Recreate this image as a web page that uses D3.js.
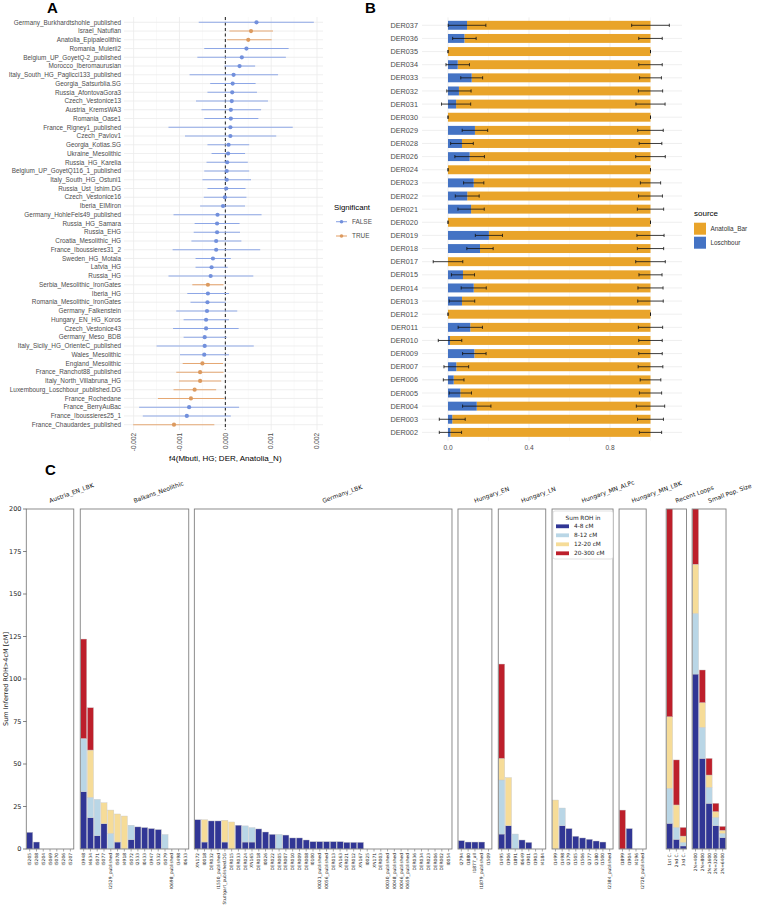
<!DOCTYPE html>
<html><head><meta charset="utf-8">
<script src="https://cdn.jsdelivr.net/npm/d3@7"></script>
<style>body{margin:0;background:#fff} svg{display:block}</style>
</head><body>
<svg id="c" width="757" height="912"></svg>
<script>
// ---------------- Panel A data ----------------
const popsA = ["Germany_Burkhardtshohle_published","Israel_Natufian","Anatolia_Epipaleolithic","Romania_Muierii2","Belgium_UP_GoyetQ-2_published","Morocco_Iberomaurusian","Italy_South_HG_Paglicci133_published","Georgia_Satsurblia.SG","Russia_AfontovaGora3","Czech_Vestonice13","Austria_KremsWA3","Romania_Oase1","France_Rigney1_published","Czech_Pavlov1","Georgia_Kotias.SG","Ukraine_Mesolithic","Russia_HG_Karelia","Belgium_UP_GoyetQ116_1_published","Italy_South_HG_Ostuni1","Russia_Ust_Ishim.DG","Czech_Vestonice16","Iberia_ElMiron","Germany_HohleFels49_published","Russia_HG_Samara","Russia_EHG","Croatia_Mesolithic_HG","France_Iboussieres31_2","Sweden_HG_Motala","Latvia_HG","Russia_HG","Serbia_Mesolithic_IronGates","Iberia_HG","Romania_Mesolithic_IronGates","Germany_Falkenstein","Hungary_EN_HG_Koros","Czech_Vestonice43","Germany_Meso_BDB","Italy_Sicily_HG_OrienteC_published","Wales_Mesolithic","England_Mesolithic","France_Ranchot88_published","Italy_North_Villabruna_HG","Luxembourg_Loschbour_published.DG","France_Rochedane","France_BerryAuBac","France_Iboussieres25_1","France_Chaudardes_published"];
const f4Est = [0.00068,0.00056,0.00050,0.00046,0.00036,0.00031,0.00018,0.00016,0.00015,0.00014,0.00012,0.00012,0.00011,0.00011,0.00007,0.00006,0.00004,0.00003,0.00003,0.00002,-0.00001,-0.00005,-0.00017,-0.00018,-0.00018,-0.00020,-0.00020,-0.00027,-0.00030,-0.00032,-0.00038,-0.00038,-0.00039,-0.00040,-0.00042,-0.00042,-0.00045,-0.00045,-0.00046,-0.00050,-0.00055,-0.00055,-0.00067,-0.00075,-0.00079,-0.00084,-0.00112];
const f4Lo = [-0.00058,0.00009,0.00004,-0.00046,-0.00061,-0.00002,-0.00078,-0.00033,-0.00039,-0.00064,-0.00052,-0.00046,-0.00124,-0.00088,-0.00039,-0.00030,-0.00041,-0.00046,-0.00050,-0.00039,-0.00047,-0.00055,-0.00113,-0.00067,-0.00069,-0.00074,-0.00115,-0.00065,-0.00065,-0.00124,-0.00072,-0.00083,-0.00076,-0.00107,-0.00091,-0.00114,-0.00091,-0.00150,-0.00099,-0.00093,-0.00107,-0.00101,-0.00113,-0.00147,-0.00188,-0.00180,-0.00201];
const f4Hi = [0.00193,0.00104,0.00101,0.00138,0.00132,0.00065,0.00115,0.00066,0.00069,0.00093,0.00078,0.00072,0.00147,0.00111,0.00052,0.00043,0.00049,0.00052,0.00056,0.00044,0.00046,0.00043,0.00079,0.00031,0.00032,0.00035,0.00076,0.00012,0.00005,0.00061,-0.00004,0.00008,0.00001,0.00026,0.00008,0.00029,0.00003,0.00062,0.00008,-0.00005,-0.00004,-0.00009,-0.00020,-0.00002,0.00030,0.00012,-0.00024];
const sigA = [false,true,true,false,false,false,false,false,false,false,false,false,false,false,false,false,false,false,false,false,false,false,false,false,false,false,false,false,false,false,true,false,false,false,false,false,false,false,false,true,true,true,true,true,false,false,true];
const ticksA = [-0.002,-0.001,0,0.001,0.002];

// ---------------- Panel B data ----------------
const derIds = ["DER037","DER036","DER035","DER034","DER033","DER032","DER031","DER030","DER029","DER028","DER026","DER024","DER023","DER022","DER021","DER020","DER019","DER018","DER017","DER015","DER014","DER013","DER012","DER011","DER010","DER009","DER007","DER006","DER005","DER004","DER003","DER002"];
const loschbourProp = [0.094,0.081,0,0.048,0.117,0.054,0.040,0,0.133,0.069,0.107,0,0.127,0.095,0.114,0,0.202,0.158,0,0.074,0.127,0.069,0,0.110,0.010,0.130,0.041,0.028,0.061,0.142,0.021,0.012];
const seProp = [0.093,0.058,0,0.058,0.054,0.060,0.072,0,0.063,0.056,0.073,0,0.050,0.059,0.065,0,0.067,0.065,0.073,0.057,0.062,0.063,0,0.060,0.058,0.058,0.061,0.051,0.055,0.070,0.064,0.055];
const sourceNames = ["Anatolia_Bar","Loschbour"];
const ticksB = [0,0.4,0.8];

// ---------------- Panel C data ----------------
const rohGroups = ["Austria_EN_LBK","Balkans_Neolithic","Germany_LBK","Hungary_EN","Hungary_LN","Hungary_MN_ALPc","Hungary_MN_LBK","Recent Loops","Small Pop. Size"];
const rohSamples = [
 ["I5205","I5208","I5204","I5069","I5070","I5206","I5207"],
 ["I3948","I4634","I5071","I5077","I2529_published","I5078","I4918","I5072","I2533","I0433","I3947","I2532","I5079","I0698_published","I3498","I0633"],
 ["XN172","I0018","DER032","I1550_published","Stuttgart_published.DG","DER015","DER033","DER024","XN165","DER018","I0026","DER022","DER005","DER007","DER010","DER009","DER008","I0100","I0021_published","I0056_published","DER013","XN163","DER021","DER012","XN167","I0025","XN171","DER003","I0030_published","I0048_published","I0046_published","I0659_published","DER036","DER034","DER023","DER006","DER002","I0054"],
 ["I2794","I1880","I1877_all","I1879_published","I1509"],
 ["I1495","I1906","I1891","I0649","I1901","I1903","I4184"],
 ["I1499","I1498","I2379","I1505","I1506","I2377","I2380","I1500","I2384_published"],
 ["I1899","I1904","I4196","I2720_published"],
 ["1st C.","2nd C.","3rd C."],
 ["2N=400","2N=800","2N=1600","2N=3200","2N=6400"]
];
const roh4_8 = [
 [9.8,4.1,0,0,0,0,0],
 [33.7,18.4,7.8,14.9,0,4.1,0,5.5,13.0,12.6,12.0,11.4,0,0,0,0],
 [17.2,4.1,16.5,16.5,4.1,0,14.0,4.1,4.1,11.8,10.0,8.6,0,8.2,6.5,6.5,5.3,4.3,4.3,4.3,4.3,4.3,3.9,3.9,3.9,0,0,0,0,0,0,0,0,0,0,0,0,0],
 [4.9,4.1,4.1,4.1,0],
 [8.8,13.7,0,5.3,3.9,0,0],
 [0,13.7,12.0,7.5,6.5,5.7,4.7,4.1,0],
 [0,12.0,0,0],
 [15.1,5.7,1.8],
 [102.9,53.3,26.9,13.7,6.7]
];
const roh8_12 = [
 [0,0,0,0,0,0,0],
 [31.3,12.0,21.4,0,9.2,0,0,8.5,0,0,0,0,8.5,0,0,0],
 [0,0,0,0,0,0,0,9.5,8.5,0,0,0,8.6,0,0,0,0,0,0,0,0,0,0,0,0,0,0,0,0,0,0,0,0,0,0,0,0,0],
 [0,0,0,0,0],
 [31.8,0,8.8,0,0,0,0],
 [0,10.4,0,0,0,0,0,0,0],
 [0,0,0,0],
 [20.6,7.0,2.1],
 [35.7,18.3,9.4,4.9,2.5]
];
const roh12_20 = [
 [0,0,0,0,0,0,0],
 [0,27.8,0,12.3,13.7,16.5,19.4,0,0,0,0,0,0,0,0,0],
 [0,13.1,0,0,12.8,15.9,0,0,0,0,0,0,0,0,0,0,0,0,0,0,0,0,0,0,0,0,0,0,0,0,0,0,0,0,0,0,0,0],
 [0,0,0,0,0],
 [12.7,28.3,0,0,0,0,0],
 [28.8,0,0,0,0,0,0,0,0],
 [0,0,0,0],
 [42.1,13.2,3.7],
 [28.9,14.5,7.2,3.4,1.8]
];
const roh20_300 = [
 [0,0,0,0,0,0,0],
 [58.5,24.9,0,0,0,0,0,0,0,0,0,0,0,0,0,0],
 [0,0,0,0,0,0,0,0,0,0,0,0,0,0,0,0,0,0,0,0,0,0,0,0,0,0,0,0,0,0,0,0,0,0,0,0,0,0],
 [0,0,0,0,0],
 [55.5,0,0,0,0,0,0],
 [0,0,0,0,0,0,0,0,0],
 [22.9,0,0,0],
 [140,26.5,5.1],
 [60,19.2,9.8,4.9,2.3]
];
const rohBins = ["4-8 cM","8-12 cM","12-20 cM","20-300 cM"];
const ticksC = [0,25,50,75,100,125,150,175,200];

// ================= drawing =================
const svg = d3.select("#c");
svg.append("rect").attr("width",757).attr("height",912).attr("fill","#fff");
const sansR = "'Liberation Sans', Arial, sans-serif";
const sansM = "'DejaVu Sans', sans-serif";

// panel letters
[["A",47,13],["B",365,13],["C",45,475]].forEach(([t,x,y])=>{
  svg.append("text").attr("x",x).attr("y",y).text(t)
    .attr("font-family",sansR).attr("font-weight","bold").attr("font-size",15).attr("fill","#000");
});

// ---------- Panel A ----------
(function(){
  const g = svg.append("g");
  const x = d3.scaleLinear().domain([-0.00221,0.00213]).range([124,323]);
  const y = d3.scalePoint().domain(popsA).range([22.3,424.7]);
  const top = 17, bot = 430;
  const minor = [-0.0015,-0.0005,0.0005,0.0015];
  g.selectAll(".mn").data(minor).join("line").attr("x1",d=>x(d)).attr("x2",d=>x(d)).attr("y1",top).attr("y2",bot)
    .attr("stroke","#f3f3f3").attr("stroke-width",0.5);
  g.selectAll(".mj").data(ticksA).join("line").attr("x1",d=>x(d)).attr("x2",d=>x(d)).attr("y1",top).attr("y2",bot)
    .attr("stroke","#ebebeb").attr("stroke-width",0.8);
  g.selectAll(".hg").data(popsA).join("line").attr("x1",124).attr("x2",323).attr("y1",d=>y(d)).attr("y2",d=>y(d))
    .attr("stroke","#ebebeb").attr("stroke-width",0.8);
  g.append("line").attr("x1",x(0)).attr("x2",x(0)).attr("y1",top).attr("y2",bot)
    .attr("stroke","#000").attr("stroke-width",0.9).attr("stroke-dasharray","3,2.5");
  const lineCol = s => s ? "#e5a874" : "#8ea7e6";
  const ptCol = s => s ? "#dc9a5f" : "#7290dc";
  popsA.forEach((p,i)=>{
    g.append("line").attr("x1",x(f4Lo[i])).attr("x2",x(f4Hi[i])).attr("y1",y(p)).attr("y2",y(p))
      .attr("stroke",lineCol(sigA[i])).attr("stroke-width",1.1);
    g.append("circle").attr("cx",x(f4Est[i])).attr("cy",y(p)).attr("r",2.1).attr("fill",ptCol(sigA[i]));
    g.append("text").attr("x",121).attr("y",y(p)).attr("dy","0.35em").attr("text-anchor","end")
      .attr("font-family",sansR).attr("font-size",6.4).attr("fill","#4d4d4d").text(p);
  });
  ticksA.forEach(t=>{
    g.append("text").attr("transform",`translate(${x(t)+2.3},433) rotate(-90)`).attr("text-anchor","end")
      .attr("font-family",sansR).attr("font-size",6.4).attr("fill","#4d4d4d").text(d3.format(".3f")(t).replace("−","-"));
  });
  g.append("text").attr("x",x(0)).attr("y",461).attr("text-anchor","middle").attr("font-family",sansR)
    .attr("font-size",8).attr("fill","#000").text("f4(Mbuti, HG; DER, Anatolia_N)");
  // legend
  g.append("text").attr("x",334).attr("y",210).attr("font-family",sansR).attr("font-size",7.8).attr("fill","#000").text("Significant");
  [[false,"FALSE",221.7],[true,"TRUE",236]].forEach(([s,t,yy])=>{
    g.append("line").attr("x1",336).attr("x2",347).attr("y1",yy).attr("y2",yy).attr("stroke",lineCol(s)).attr("stroke-width",1.1);
    g.append("circle").attr("cx",341.5).attr("cy",yy).attr("r",1.8).attr("fill",ptCol(s));
    g.append("text").attr("x",352).attr("y",yy).attr("dy","0.35em").attr("font-family",sansR).attr("font-size",6.4).attr("fill","#4d4d4d").text(t);
  });
})();

// ---------- Panel B ----------
(function(){
  const g = svg.append("g");
  const x = d3.scaleLinear().domain([0,1]).range([448,650.5]);
  const y = d3.scalePoint().domain(derIds).range([25.3,432.4]);
  const bh = y.step()*0.68;
  const top = 17.4, bot = 441, left = 422, right = 682;
  const colAn = "#e9a42a", colLo = "#4473c4";
  g.selectAll(".mn").data([0.2,0.6,1.0]).join("line").attr("x1",d=>x(d)).attr("x2",d=>x(d)).attr("y1",top).attr("y2",bot)
    .attr("stroke","#f3f3f3").attr("stroke-width",0.5);
  g.selectAll(".mj").data(ticksB).join("line").attr("x1",d=>x(d)).attr("x2",d=>x(d)).attr("y1",top).attr("y2",bot)
    .attr("stroke","#ebebeb").attr("stroke-width",0.8);
  g.selectAll(".hg").data(derIds).join("line").attr("x1",left).attr("x2",right).attr("y1",d=>y(d)).attr("y2",d=>y(d))
    .attr("stroke","#ebebeb").attr("stroke-width",0.8);
  derIds.forEach((d,i)=>{
    const L = loschbourProp[i];
    g.append("rect").attr("x",x(L)).attr("width",x(1)-x(L)).attr("y",y(d)-bh/2).attr("height",bh).attr("fill",colAn);
    if (L>0) g.append("rect").attr("x",x(0)).attr("width",x(L)-x(0)).attr("y",y(d)-bh/2).attr("height",bh).attr("fill",colLo);
    [L,1].forEach(c=>{
      const a = x(c-seProp[i]), b = x(c+seProp[i]);
      g.append("line").attr("x1",a).attr("x2",b).attr("y1",y(d)).attr("y2",y(d)).attr("stroke","#111").attr("stroke-width",0.8);
      [a,b].forEach(xx=>g.append("line").attr("x1",xx).attr("x2",xx).attr("y1",y(d)-1.6).attr("y2",y(d)+1.6).attr("stroke","#111").attr("stroke-width",0.8));
    });
    g.append("text").attr("x",418).attr("y",y(d)).attr("dy","0.35em").attr("text-anchor","end")
      .attr("font-family",sansR).attr("font-size",7.3).attr("fill","#4d4d4d").text(d);
  });
  ticksB.forEach(t=>g.append("text").attr("x",x(t)).attr("y",450).attr("text-anchor","middle")
    .attr("font-family",sansR).attr("font-size",6.6).attr("fill","#4d4d4d").text(d3.format(".1f")(t)));
  g.append("text").attr("x",694).attr("y",216).attr("font-family",sansR).attr("font-size",8).attr("fill","#000").text("source");
  [[colAn,sourceNames[0],222.7],[colLo,sourceNames[1],236.7]].forEach(([c,t,yy])=>{
    g.append("rect").attr("x",694).attr("y",yy).attr("width",12).attr("height",12).attr("fill",c);
    g.append("text").attr("x",710.5).attr("y",yy+6).attr("dy","0.35em").attr("font-family",sansR).attr("font-size",6.4).attr("fill","#333").text(t);
  });
})();

// ---------- Panel C ----------
(function(){
  const g = svg.append("g");
  const y = d3.scaleLinear().domain([0,200]).range([849,509]);
  const cols = ["#313695","#b9d6e6","#f6dc98","#bd1f2b"];
  const series = [roh4_8, roh8_12, roh12_20, roh20_300];
  const slot = 6.78, gaps = [6.5,5.6,6,6.4,6.3,6,20,5.6];
  let cur = 26.3;
  const defs = svg.append("defs");
  rohGroups.forEach((grp,gi)=>{
    const n = rohSamples[gi].length;
    const left = cur, right = cur + n*slot;
    cur = right + (gaps[gi]||0);
    const x = d3.scaleBand().domain(rohSamples[gi]).range([left,right]).paddingInner(0.1).paddingOuter(0.05);
    const cid = "clip"+gi;
    defs.append("clipPath").attr("id",cid).append("rect").attr("x",left).attr("y",y(200)).attr("width",right-left).attr("height",y(0)-y(200));
    const pg = g.append("g").attr("clip-path",`url(#${cid})`);
    rohSamples[gi].forEach((s,si)=>{
      let base = 0;
      series.forEach((ser,k)=>{
        const v = ser[gi][si];
        if (v>0){
          pg.append("rect").attr("x",x(s)).attr("width",x.bandwidth()).attr("y",y(base+v)).attr("height",y(base)-y(base+v))
            .attr("fill",cols[k]).attr("stroke","#c9c9c9").attr("stroke-width",0.4);
        }
        base += v;
      });
      g.append("line").attr("x1",x(s)+x.bandwidth()/2).attr("x2",x(s)+x.bandwidth()/2).attr("y1",849).attr("y2",851.5).attr("stroke","#555").attr("stroke-width",0.5);
      g.append("text").attr("transform",`translate(${x(s)+x.bandwidth()/2+1.5},853) rotate(-90)`).attr("text-anchor","end")
        .attr("font-family",sansM).attr("font-size",4.4).attr("fill","#222").text(s);
    });
    g.append("rect").attr("x",left).attr("y",y(200)).attr("width",right-left).attr("height",y(0)-y(200))
      .attr("fill","none").attr("stroke","#808080").attr("stroke-width",0.9);
    g.append("text").attr("transform",`translate(${(left+right)/2},503) rotate(-20)`).attr("font-family",sansM)
      .attr("font-size",6).attr("fill","#111").text(grp);
  });
  ticksC.forEach(t=>{
    g.append("line").attr("x1",23).attr("x2",26.3).attr("y1",y(t)).attr("y2",y(t)).attr("stroke","#333").attr("stroke-width",0.6);
    g.append("text").attr("x",21.5).attr("y",y(t)).attr("dy","0.35em").attr("text-anchor","end")
      .attr("font-family",sansM).attr("font-size",6.5).attr("fill","#222").text(t);
  });
  g.append("text").attr("transform",`translate(8,679) rotate(-90)`).attr("text-anchor","middle")
    .attr("font-family",sansM).attr("font-size",6.5).attr("fill","#222").text("Sum Inferred ROH>4cM [cM]");
  // legend
  const lg = g.append("g");
  lg.append("rect").attr("x",553).attr("y",511).attr("width",60).attr("height",48).attr("rx",2)
    .attr("fill","#fff").attr("stroke","#cccccc").attr("stroke-width",0.6);
  lg.append("text").attr("x",583).attr("y",517.5).attr("dy","0.35em").attr("text-anchor","middle")
    .attr("font-family",sansM).attr("font-size",5.8).attr("fill","#222").text("Sum ROH in");
  rohBins.forEach((b,k)=>{
    const yy = 526.3 + k*9;
    lg.append("rect").attr("x",556).attr("y",yy-1.9).attr("width",13).attr("height",3.8).attr("fill",cols[k]);
    lg.append("text").attr("x",574).attr("y",yy).attr("dy","0.35em").attr("font-family",sansM).attr("font-size",5.8).attr("fill","#222").text(b);
  });
})();
</script></body></html>
